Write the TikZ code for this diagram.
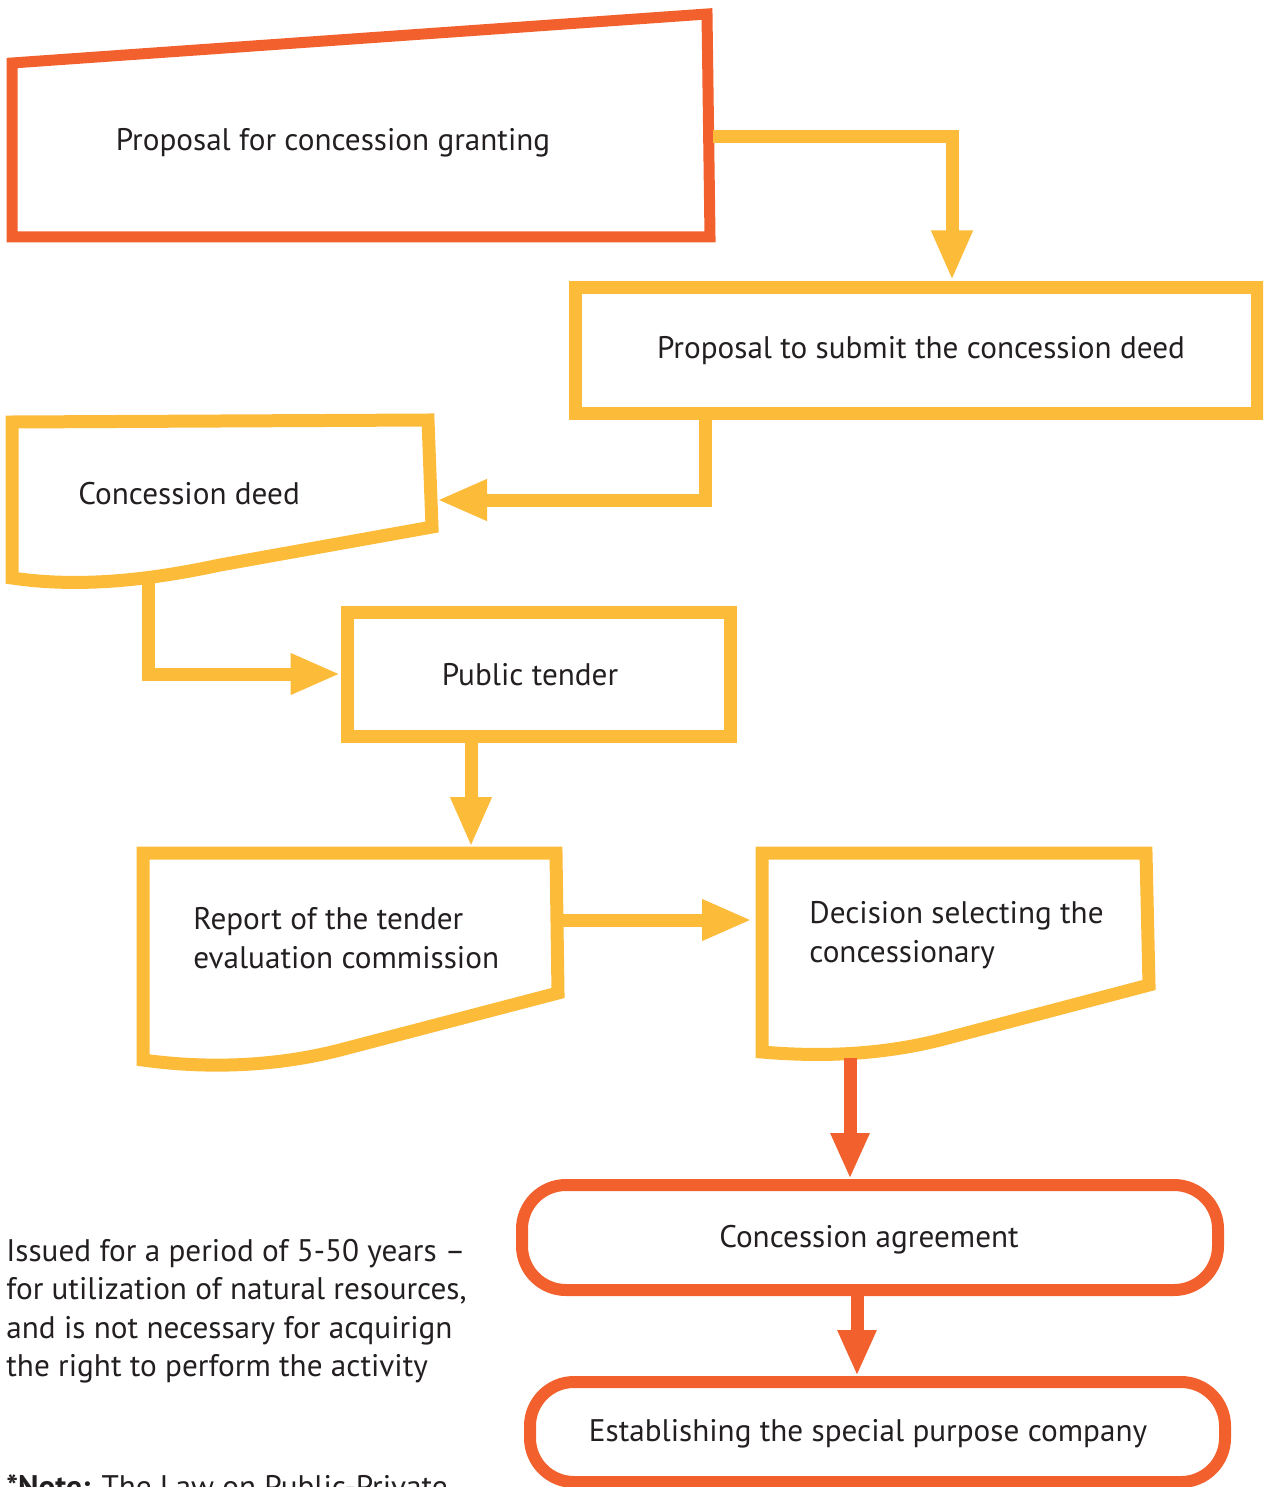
\documentclass[tikz,border=0pt]{standalone}
\usepackage{fontspec}
\setmainfont{PT Sans}
\usetikzlibrary{arrows.meta}
\definecolor{orng}{HTML}{F2612D}
\definecolor{yell}{HTML}{FDBB3A}
\definecolor{txt}{HTML}{231F20}
\tikzset{
  ybox/.style={draw=yell, line width=6.5pt},
  obox/.style={draw=orng, line width=5.5pt},
  orbox/.style={draw=orng, line width=6pt, rounded corners=22pt},
  yconn/.style={draw=yell, line width=6.5pt, -{Triangle[length=25pt,width=19pt]}},
  oconn/.style={draw=orng, line width=6.5pt, -{Triangle[length=23pt,width=18pt]}},
  lbl/.style={font=\fontsize{15.6}{19.25}\selectfont, text=txt},
  lft/.style={lbl, inner sep=0pt, anchor=west, align=left},
}
\begin{document}
\begin{tikzpicture}[x=0.5pt,y=-0.5pt]
\useasboundingbox (0,0) rectangle (1263,1487);
\clip (0,0) rectangle (1263,1487);

% 1 Proposal for concession granting (manual input shape)
\draw[obox] (12,63) -- (707,14) -- (710,237) -- (12,237) -- cycle;
\node[lbl] (grant) at (333,143) {Proposal for concession granting};
\coordinate (grantR) at (713,137);

% 2 Proposal to submit
\node[ybox, minimum width=341pt, minimum height=63pt] (submit) at (916,350) {};
\node[lbl] (submitlbl) at (921,351) {Proposal to submit the concession deed};

% 3 Concession deed (document)
\draw[ybox] (12,422) -- (428,420) -- (432,527) -- (220,565)
  .. controls (150,580) and (80,588) .. (12,578) -- cycle;
\node[lft] (deed) at (78,494) {Concession deed};
\coordinate (deedR) at (437,500);
\coordinate (deedB) at (148,575);

% 4 Public tender
\node[ybox, minimum width=191.5pt, minimum height=62pt] (tender) at (538.5,674) {};
\node[lbl] (tenderlbl) at (530,675) {Public tender};

% 5 Report (document)
\draw[ybox] (143,853) -- (556,853) -- (558,993) -- (340,1050)
  .. controls (270,1068) and (200,1068) .. (143,1060) -- cycle;
\node[lft] (report) at (193,938) {Report of the tender\\evaluation commission};
\coordinate (reportT) at (471,847);
\coordinate (reportR) at (561,920);

% 6 Decision (document)
\draw[ybox] (762,853) -- (1146,853) -- (1149,985) -- (940,1040)
  .. controls (880,1055) and (820,1057) .. (762,1052) -- cycle;
\node[lft] (decision) at (809,935) {Decision selecting the\\concessionary};
\coordinate (decisionL) at (752,920);
\coordinate (decisionB) at (850,1058);

% 7 Concession agreement
\node[orbox, minimum width=348pt, minimum height=52.5pt] (agree) at (870,1237.5) {};
\node[lbl] (agreelbl) at (869,1240) {Concession agreement};

% 8 Establishing SPC
\node[orbox, minimum width=347.5pt, minimum height=50pt] (spc) at (877.5,1432) {};
\node[lbl] (spclbl) at (868,1434) {Establishing the special purpose company};

% side note
\node[lft] (issued) at (6,1311) {Issued for a period of 5-50 years --\\for utilization of natural resources,\\and is not necessary for acquirign\\the right to perform the activity};
\node[lbl, inner sep=0pt, anchor=base west] (note) at (6,1497) {\textbf{*Note:} The Law on Public-Private};

% connectors
\draw[yconn] (grantR) -| ([xshift=18pt]submit.north);
\draw[yconn] ([xshift=-105.5pt]submit.south) |- (deedR);
\draw[yconn] (deedB) |- (tender.west);
\draw[yconn] ([xshift=-33.75pt]tender.south) -- (reportT);
\draw[yconn] (reportR) -- (decisionL);
\draw[oconn] (decisionB) -- ([xshift=-10pt]agree.north);
\draw[oconn] ([xshift=-6.5pt]agree.south) -- ([xshift=-10.25pt]spc.north);
\end{tikzpicture}
\end{document}
